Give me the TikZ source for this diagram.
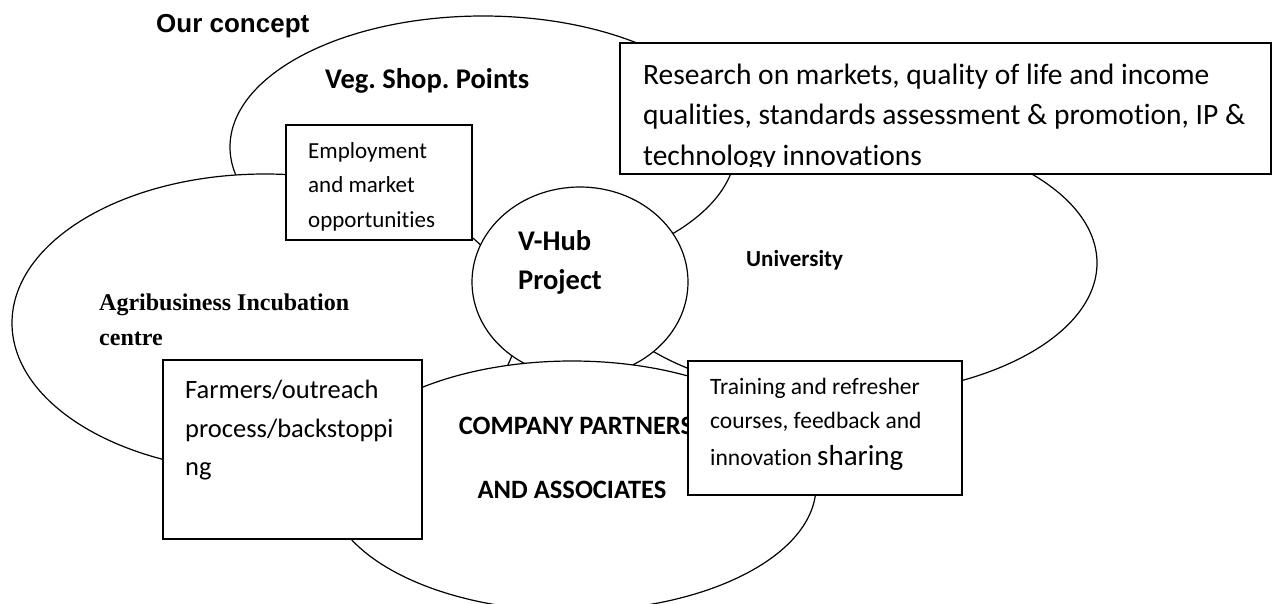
\documentclass[tikz,border=0pt]{standalone}
\usepackage{fontspec}
\setmainfont{Carlito}[Ligatures=NoCommon]
\newfontfamily\arialfont{Liberation Sans}
\newfontfamily\timesfont{Liberation Serif}
\usetikzlibrary{positioning}
\frenchspacing
\tikzset{
    blob/.style={fill=white, draw=black, line width=1.2pt},
    panel/.style={fill=white, draw=black, line width=1.6pt},
    textline/.style={anchor=base west, inner sep=0pt},
    heading/.style={textline, font=\fontsize{26}{30}\selectfont\arialfont\bfseries},
    blobtext/.style={textline, font=\fontsize{28.5}{34}\selectfont\bfseries},
    unitext/.style={textline, font=\fontsize{23}{27}\selectfont\bfseries},
    agritext/.style={textline, font=\fontsize{24}{28}\selectfont\timesfont\bfseries},
    comptext/.style={anchor=base, inner sep=0pt, font=\fontsize{26.5}{30}\selectfont\bfseries},
    restext/.style={textline, font=\fontsize{29.5}{35}\selectfont},
    emptext/.style={textline, font=\fontsize{23}{27}\selectfont},
    farmtext/.style={textline, font=\fontsize{26.5}{31}\selectfont},
    traintext/.style={textline, font=\fontsize{23.5}{28}\selectfont}
}
\def\university{(843,263) ellipse (254 and 133)}
\def\vegshop{(483,147) ellipse (253 and 131)}
\def\agri{(265,323) ellipse (253 and 149)}
\def\vhub{(580,282) ellipse (108 and 95)}
\def\company{(572,486) ellipse (244 and 125)}
\def\researchbox{(620,43) rectangle (1271,174)}
\def\employbox{(286,125) rectangle (472,240)}
\def\farmbox{(163,360) rectangle (422,539)}
\def\trainbox{(688,361) rectangle (962,495)}

\begin{document}
\begin{tikzpicture}[x=1pt, y=-1pt]
    \useasboundingbox (0,0) rectangle (1278,603);

    % Draw the circles from back to front
    \filldraw[blob] \university;
    \filldraw[blob] \vegshop;
    \filldraw[blob] \agri;
    \filldraw[blob] \vhub;
    \filldraw[blob] \company;

    % Labels of the circles
    \node[heading] (concept) at (156,32) {Our concept};
    \node[blobtext] (veg) at (325,88) {Veg. Shop. Points};
    \node[blobtext] (hub1) at (518,250) {V-Hub};
    \node[blobtext] (hub2) at (518,289) {Project};
    \node[unitext] (uni) at (746,266) {University};
    \node[agritext] (agri1) at (99,310) {Agribusiness Incubation};
    \node[agritext] (agri2) at (99,345) {centre};
    \node[comptext] (comp1) at (576,434) {COMPANY PARTNERS};
    \node[comptext] (comp2) at (572,498) {AND ASSOCIATES};

    % Draw the boxes on top of the circles
    \filldraw[panel] \researchbox;
    \filldraw[panel] \employbox;
    \filldraw[panel] \farmbox;
    \filldraw[panel] \trainbox;

    % Research text runs past the bottom of its box
    \begin{scope}
        \clip (620,43) rectangle (1271,166.5);
        \node[restext] (res1) at (643,84) {Research on markets, quality of life and income};
        \node[restext] (res2) at (643,124.5) {qualities, standards assessment \& promotion, IP \&};
        \node[restext] (res3) at (643,165) {technology innovations};
    \end{scope}

    \node[emptext] (emp1) at (308,158) {Employment};
    \node[emptext] (emp2) at (308,192) {and market};
    \node[emptext] (emp3) at (308,227) {opportunities};

    \node[farmtext] (farm1) at (185,398) {Farmers/outreach};
    \node[farmtext] (farm2) at (185,437) {process/backstoppi};
    \node[farmtext] (farm3) at (185,475) {ng};

    \node[traintext] (train1) at (710,394) {Training and refresher};
    \node[traintext] (train2) at (710,428) {courses, feedback and};
    \node[traintext] (train3) at (710,465) {innovation {\fontsize{29}{32}\selectfont sharing}};
\end{tikzpicture}
\end{document}
